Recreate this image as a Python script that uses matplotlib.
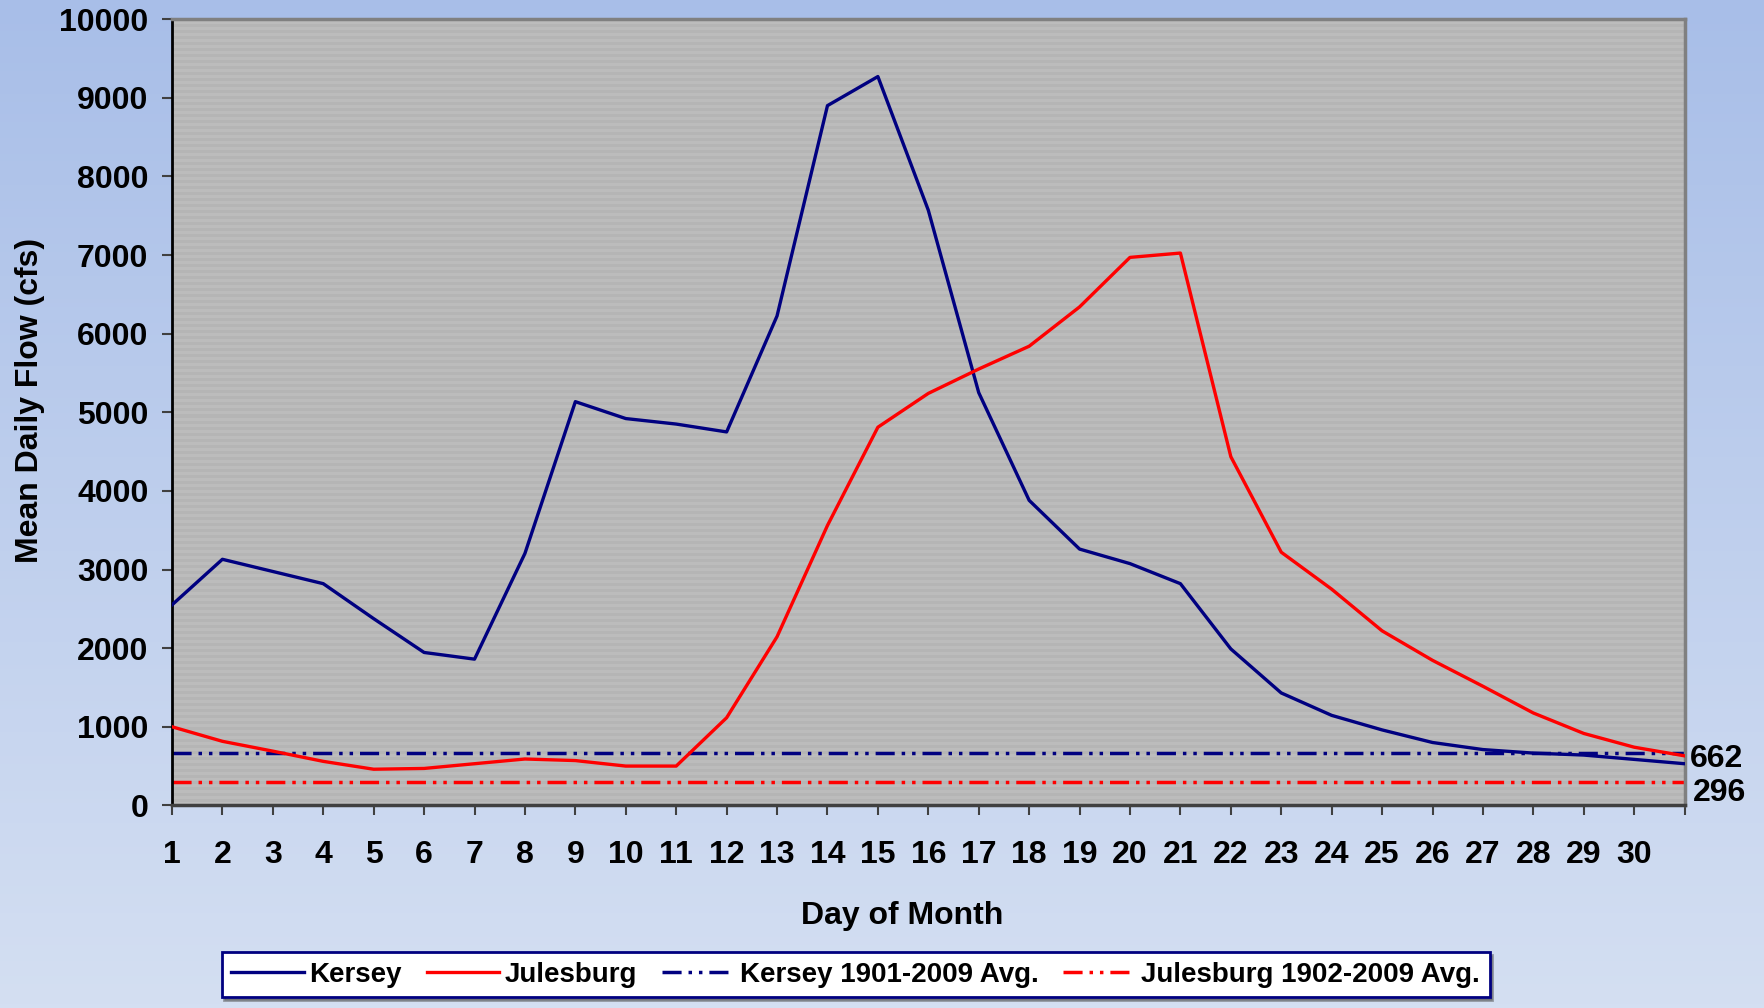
import numpy as np
from matplotlib import pyplot as plt

days = list(range(1, 32))
kersey = [2550, 3130, 2975, 2820, 2375, 1945, 1860, 3205, 5135, 4920,
          4850, 4750, 6225, 8900, 9270, 7570, 5250, 3880, 3260, 3075,
          2820, 1990, 1430, 1145, 960, 800, 710, 665, 640, 585, 530]
julesburg = [1000, 815, 690, 560, 460, 470, 530, 590, 570, 500,
             500, 1115, 2145, 3560, 4810, 5240, 5550, 5840, 6340, 6970,
             7025, 4435, 3220, 2750, 2220, 1845, 1515, 1175, 915, 740, 630]
kersey_avg = 662
julesburg_avg = 296
tick_days = list(range(1, 32))
tick_labels = [str(d) for d in range(1, 31)] + ['']

plt.rcParams['font.family'] = ['Liberation Sans', 'DejaVu Sans']
plt.rcParams['font.weight'] = 'bold'

fig = plt.figure(figsize=(17.64, 10.08), dpi=100)

# background gradient
bg = fig.add_axes([0, 0, 1, 1], zorder=-10)
top = np.array([0xa8, 0xbe, 0xe8]) / 255
bot = np.array([0xd4, 0xdf, 0xf2]) / 255
t = np.linspace(0, 1, 256)[:, None]
grad = top + (bot - top) * t
bg.imshow(grad[:, None, :].repeat(2, axis=1), aspect='auto', extent=[0, 1, 0, 1])
bg.axis('off')

ax = fig.add_axes([0.0975, 0.201, 0.8575, 0.780])

# striped gray plot area
rows = 262
stripes = np.where(np.arange(rows) % 2 == 0, 0.71, 0.74)
ax.imshow(np.repeat(stripes[:, None, None], 3, axis=2).repeat(2, axis=1),
          aspect='auto', extent=[0, 1, 0, 1], transform=ax.transAxes, zorder=0)

dash = (0, (5.5, 2, 1, 2, 1, 2))
ax.plot(days, kersey, c='#000080', lw=2.4, label='Kersey', zorder=3)
ax.plot(days, julesburg, c='#ff0000', lw=2.4, label='Julesburg', zorder=3)
ax.plot(days, [kersey_avg] * len(days), c='#000080', lw=2.5, ls=dash,
        label='Kersey 1901-2009 Avg.', zorder=2)
ax.plot(days, [julesburg_avg] * len(days), c='#ff0000', lw=2.5, ls=dash,
        label='Julesburg 1902-2009 Avg.', zorder=2)

ax.set_xlim(1, 31)
ax.set_ylim(0, 10000)
ax.set_xticks(tick_days)
ax.set_xticklabels(tick_labels)
ax.set_yticks(range(0, 10001, 1000))
ax.tick_params(axis='both', which='major', labelsize=23, direction='out',
               length=7, width=1.5, color='#404040')
ax.tick_params(axis='x', pad=18)
ax.tick_params(axis='y', pad=10)

for s in ['top', 'right']:
    ax.spines[s].set_color('#808080')
    ax.spines[s].set_linewidth(2.5)
ax.spines['left'].set_color('black')
ax.spines['left'].set_linewidth(2)
ax.spines['bottom'].set_color('#404040')
ax.spines['bottom'].set_linewidth(2.5)

ax.set_xlabel('Day of Month', fontsize=23, fontweight='bold')
ax.xaxis.set_label_coords(0.483, -0.121)
ax.set_ylabel('Mean Daily Flow (cfs)', fontsize=23, fontweight='bold')
ax.yaxis.set_label_coords(-0.084, 0.515)

ax.annotate(str(kersey_avg), xy=(31, kersey_avg), xytext=(4, -4),
            textcoords='offset points', fontsize=23, fontweight='bold',
            va='center', ha='left', annotation_clip=False)
ax.annotate(str(julesburg_avg), xy=(31, julesburg_avg), xytext=(6, -8),
            textcoords='offset points', fontsize=23, fontweight='bold',
            va='center', ha='left', annotation_clip=False)

leg = ax.legend(loc='center', bbox_to_anchor=(0.485, 0.033),
                bbox_transform=fig.transFigure, ncol=4,
                fontsize=20, frameon=True, fancybox=False, shadow=True,
                handlelength=2.6, columnspacing=0.9, borderpad=0.35,
                handletextpad=0.2)
leg.get_frame().set_edgecolor('#000080')
leg.get_frame().set_linewidth(2)
leg.get_frame().set_facecolor('white')

plt.savefig('out.png', dpi=100)
